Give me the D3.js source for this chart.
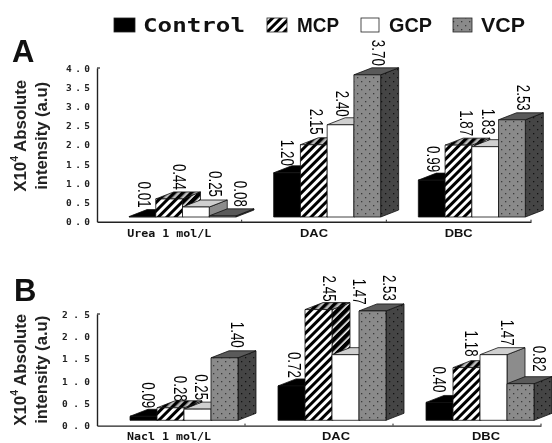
<!DOCTYPE html>
<html><head><meta charset="utf-8">
<script src="https://cdn.jsdelivr.net/npm/d3@7"></script>
<style>html,body{margin:0;padding:0;background:#fff}svg{display:block;filter:blur(.55px)}</style>
</head><body><svg id="c" width="552" height="443"></svg>
<script>
const seriesNames = ["Control","MCP","GCP","VCP"];
const categoriesA = ["Urea 1 mol/L","DAC","DBC"];
const categoriesB = ["Nacl 1 mol/L","DAC","DBC"];
const labelsA = [[0.01,0.44,0.25,0.08],[1.20,2.15,2.40,3.70],[0.99,1.87,1.83,2.53]];
const labelsB = [[0.09,0.28,0.25,1.40],[0.72,2.45,1.47,2.53],[0.40,1.18,1.47,0.82]];
const heightsA = [[0.01,0.47,0.26,0.03],[1.15,1.88,2.40,3.70],[0.96,1.87,1.83,2.53]];
const heightsB = [[0.09,0.28,0.25,1.40],[0.77,2.48,1.47,2.45],[0.40,1.18,1.47,0.82]];
const ticksA = [0,0.5,1,1.5,2,2.5,3,3.5,4];
const ticksB = [0,0.5,1,1.5,2,2.5];
const nudgeXA = [[2,10,20,18],[0,3,2,11],[2,8,3,12]];
const nudgeYA = [[-2,-2,-3,-2],[0,-3,-1,-2],[-1,-2,-5,-2]];
const nudgeXB = [[5,10,4,13],[3,11,14,17],[0,5,14,19]];
const nudgeYB = [[-1,1,-2,-3],[-1,-1,-43,-3],[-3,-4,-2,-5]];
const catNudgeB = [-2,17,19];
const catNudgeA = [0,0,0];

const svg = d3.select("#c");
const defs = svg.append("defs");
function stripes(id,bg,fg,w,p){
  const pt=defs.append("pattern").attr("id",id).attr("patternUnits","userSpaceOnUse")
    .attr("width",p).attr("height",p).attr("patternTransform","rotate(45)");
  pt.append("rect").attr("width",p).attr("height",p).attr("fill",bg);
  pt.append("rect").attr("width",w).attr("height",p).attr("fill",fg);
}
function dots(id,bg,fg){
  const pt=defs.append("pattern").attr("id",id).attr("patternUnits","userSpaceOnUse")
    .attr("width",8).attr("height",8);
  pt.append("rect").attr("width",8).attr("height",8).attr("fill",bg);
  pt.append("rect").attr("x",1).attr("y",1).attr("width",1.3).attr("height",1.3).attr("fill",fg);
  pt.append("rect").attr("x",5).attr("y",5).attr("width",1.3).attr("height",1.3).attr("fill",fg);
}
stripes("hF","#fff","#000",3,6);
stripes("hS","#fff","#000",4.4,6);
stripes("hT","#bbb","#000",3.4,6);
dots("dF","#8a8a8a","#3a3a3a");
dots("dS","#454545","#111");
const faces = {
  front:["#000","url(#hF)","#fff","url(#dF)"],
  side:["#000","url(#hS)","#8c8c8c","url(#dS)"],
  top:["#000","url(#hT)","#cfcfcf","#5a5a5a"]
};
const depthX=18, depthY=7;

function panel(o){
  const g=svg.append("g");
  const y=d3.scaleLinear().domain([0,o.max]).range([o.y0,o.yTop]);
  const x=d3.scaleBand().domain(o.cats).range([o.x0,o.x1]);
  const inner=d3.scaleBand().domain(seriesNames).range([0,o.barSpan]);
  const lift=o.y0-o.base;
  const ya=d3.axisLeft(y).tickValues(o.ticks).tickSize(0).tickFormat(d3.format(".1f"));
  const gy=g.append("g").attr("transform",`translate(${o.x0},0)`).call(ya);
  gy.select(".domain").attr("stroke","#222").attr("stroke-width",1.4);
  gy.selectAll("text").attr("x",-7).attr("font-family","'DejaVu Sans Mono'").attr("font-weight","bold")
    .attr("font-size",o.tickFont).attr("fill","#222").attr("textLength",o.tickLen).attr("lengthAdjust","spacing");
  g.append("line").attr("x1",o.x0).attr("x2",o.x0+3).attr("y1",y(o.max)).attr("y2",y(o.max)).attr("stroke","#222").attr("stroke-width",1.2);
  const xa=d3.axisBottom(x).tickSize(0);
  const gx=g.append("g").attr("transform",`translate(0,${o.y0})`).call(xa);
  gx.select(".domain").attr("stroke","#222").attr("stroke-width",1.4);
  gx.selectAll("text").attr("fill","#111").attr("dy",0).attr("y",o.catY)
    .attr("dominant-baseline","central")
    .attr("dx",(d,i)=>o.catNudge[i])
    .attr("font-family",(d,i)=>i===0?"'DejaVu Sans Mono'":"'Liberation Sans'")
    .attr("font-weight","bold").attr("font-size",(d,i)=>i===0?10:10)
    .attr("textLength",(d,i)=>i===0?84:28).attr("lengthAdjust","spacingAndGlyphs");
  g.selectAll(".bt").data(o.cats.slice(1).map(c=>x(c)).concat(o.x1)).join("line")
    .attr("x1",d=>d).attr("x2",d=>d).attr("y1",o.y0-2).attr("y2",o.y0).attr("stroke","#222");
  o.cats.forEach((c,gi)=>{
    seriesNames.forEach((s,si)=>{
      const h=o.heights[gi][si];
      const l=x(c)+o.inset+inner(s), r=l+inner.bandwidth();
      const t=y(h)-lift, b=o.base;
      const bar=g.append("g").attr("stroke","#111").attr("stroke-width",.8).attr("stroke-linejoin","round");
      bar.append("path").attr("fill",faces.side[si])
        .attr("d",d3.line()([[r,t],[r+depthX,t-depthY],[r+depthX,b-depthY],[r,b]])+"Z");
      bar.append("path").attr("fill",faces.top[si])
        .attr("d",d3.line()([[l,t],[l+depthX,t-depthY],[r+depthX,t-depthY],[r,t]])+"Z");
      bar.append("rect").attr("x",l).attr("y",t).attr("width",r-l).attr("height",b-t).attr("fill",faces.front[si]);
    });
  });
  o.cats.forEach((c,gi)=>{
    seriesNames.forEach((s,si)=>{
      const h=o.heights[gi][si];
      const cx=x(c)+o.inset+inner(s)+inner.bandwidth()/2+o.nudgeX[gi][si];
      const bottom=y(h)-lift-depthY+o.nudgeY[gi][si];
      g.append("text").attr("transform",`translate(${cx},${bottom-13}) rotate(90)`)
        .attr("text-anchor","middle").attr("dominant-baseline","central")
        .attr("font-family","'Liberation Sans'").attr("font-size",19).attr("fill","#000")
        .attr("textLength",26).attr("lengthAdjust","spacingAndGlyphs")
        .text(d3.format(".2f")(o.labels[gi][si]));
    });
  });
  const cy=(o.yTop+o.y0)/2+o.titleShift;
  const t1=g.append("text").attr("transform",`translate(20,${cy}) rotate(-90)`).attr("text-anchor","middle")
    .attr("dominant-baseline","central").attr("font-family","'Liberation Sans'").attr("font-weight","bold")
    .attr("font-size",16).attr("fill","#222").attr("textLength",112).attr("lengthAdjust","spacingAndGlyphs");
  t1.append("tspan").text("X10");
  t1.append("tspan").attr("font-size",10).attr("dy",-6).text("4");
  t1.append("tspan").attr("dy",6).text(" Absolute");
  g.append("text").attr("transform",`translate(41,${cy}) rotate(-90)`).attr("text-anchor","middle")
    .attr("dominant-baseline","central").attr("font-family","'Liberation Sans'").attr("font-weight","bold")
    .attr("font-size",16).attr("fill","#222").attr("textLength",108).attr("lengthAdjust","spacingAndGlyphs").text("intensity (a.u)");
  g.append("text").attr("x",o.letterX).attr("y",o.letterY).attr("font-family","'Liberation Sans'")
    .attr("font-weight","bold").attr("font-size",31).attr("fill","#111").text(o.letter);
}

panel({letter:"A",letterX:12,letterY:62,cats:categoriesA,labels:labelsA,heights:heightsA,ticks:ticksA,max:4,
  y0:221.7,yTop:68,base:217,x0:97,x1:531,inset:32,barSpan:107,nudgeX:nudgeXA,nudgeY:nudgeYA,
  catNudge:catNudgeA,catY:11.5,tickFont:9.5,tickLen:24,titleShift:-9});
panel({letter:"B",letterX:14,letterY:301,cats:categoriesB,labels:labelsB,heights:heightsB,ticks:ticksB,max:2.5,
  y0:425.6,yTop:314,base:420.3,x0:97,x1:541,inset:33,barSpan:108,nudgeX:nudgeXB,nudgeY:nudgeYB,
  catNudge:catNudgeB,catY:11,tickFont:9.5,tickLen:28,titleShift:0});

const legendX=d3.scaleOrdinal().domain(seriesNames).range([114,267,361,453]);
const legendW=d3.scaleOrdinal().domain(seriesNames).range([21,20,18,19]);
const legendTextX=d3.scaleOrdinal().domain(seriesNames).range([143,297,389,481]);
const legendTextW=d3.scaleOrdinal().domain(seriesNames).range([102,42,43,44]);
const legendFill=d3.scaleOrdinal().domain(seriesNames).range(faces.front);
const lg=svg.append("g");
lg.selectAll("rect").data(seriesNames).join("rect")
  .attr("x",d=>legendX(d)).attr("y",18).attr("width",d=>legendW(d)).attr("height",14)
  .attr("fill",d=>legendFill(d)).attr("stroke","#222").attr("stroke-width",.8);
lg.selectAll("text").data(seriesNames).join("text")
  .attr("x",d=>legendTextX(d)).attr("y",25).attr("dominant-baseline","central")
  .attr("font-family",d=>d==="Control"?"'DejaVu Sans Mono'":"'Liberation Sans'").attr("font-weight","bold")
  .attr("font-size",20).attr("fill","#111")
  .attr("textLength",d=>legendTextW(d)).attr("lengthAdjust","spacingAndGlyphs").text(d=>d);
</script></body></html>
